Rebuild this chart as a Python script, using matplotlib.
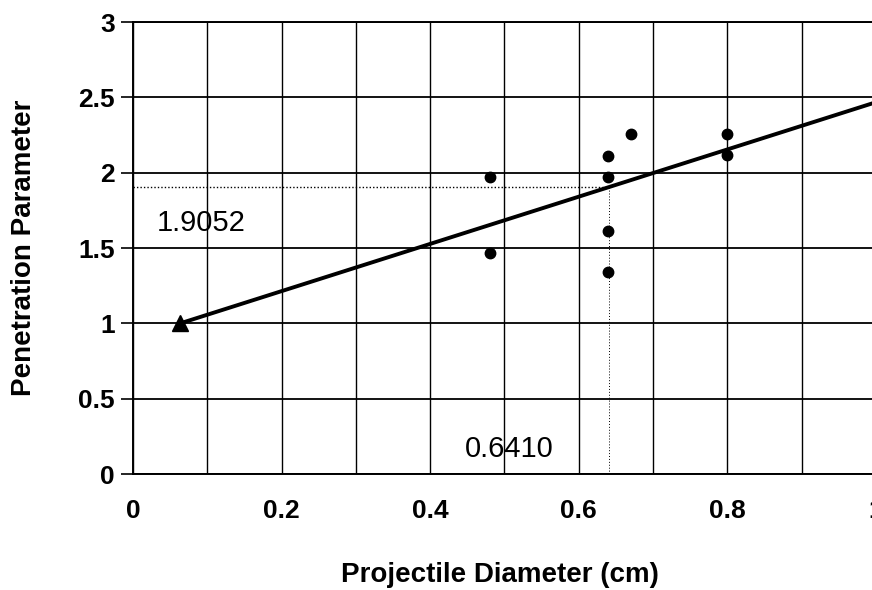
import matplotlib.pyplot as plt
import numpy as np

plt.rcParams['font.family'] = ['Liberation Sans', 'DejaVu Sans']

# measured points
diam = [0.48, 0.48, 0.64, 0.64, 0.64, 0.64, 0.67, 0.80, 0.80]
param = [1.97, 1.47, 2.11, 1.97, 1.61, 1.34, 2.26, 2.26, 2.12]

# reference point (triangle)
ref_x = [0.0635]
ref_y = [1.0]

# fit line and the read-off value
fit_x = [0.0635, 1.0]
read_x = 0.6410
read_y = 1.9052

slope = (read_y - ref_y[0]) / (read_x - ref_x[0])
fit_y = [ref_y[0] + slope * (x - ref_x[0]) for x in fit_x]

fig = plt.figure(figsize=(8.72, 5.90), dpi=100)
ax = fig.add_axes([0.1525, 0.1966, 0.852, 0.766])

ax.set_xlim(0, 1)
ax.set_ylim(0, 3)
ax.set_xticks(np.arange(0, 1.01, 0.2))
ax.set_xticklabels(["0", "0.2", "0.4", "0.6", "0.8", "1"])
ax.set_xticks(np.arange(0, 1.01, 0.1), minor=True)
ax.set_yticks(np.arange(0, 3.01, 0.5))
ax.set_yticklabels(["0", "0.5", "1", "1.5", "2", "2.5", "3"])

ax.grid(True, which='both', axis='x', color='black', linewidth=1.0)
ax.grid(True, which='major', axis='y', color='black', linewidth=1.3)
ax.tick_params(axis='x', which='both', length=0, pad=18, labelsize=19)
ax.tick_params(axis='y', length=9, width=1.2, pad=4, labelsize=19)
for lbl in ax.get_xticklabels() + ax.get_yticklabels():
    lbl.set_fontweight('bold')
for s in ax.spines.values():
    s.set_linewidth(1.4)

ax.plot([0, read_x], [read_y, read_y], color='black', linestyle=(0, (1, 1.5)), linewidth=1.0)
ax.plot([read_x, read_x], [0, read_y], color='black', linestyle=(0, (1, 2)), linewidth=0.7)

ax.plot(fit_x, fit_y, color='black', linewidth=2.8, solid_capstyle='butt', clip_on=False)
ax.plot(diam, param, 'o', color='black', markersize=7.5, linestyle='none')
ax.plot(ref_x, ref_y, '^', color='black', markersize=12, linestyle='none')

ax.text(0.032, 1.666, "1.9052", fontsize=21, va='center', ha='left')
ax.text(0.447, 0.166, "0.6410", fontsize=21, va='center', ha='left')

ax.set_xlabel("Projectile Diameter (cm)", fontsize=20, fontweight='bold', va='center')
ax.xaxis.set_label_coords(0.494, -0.2235)
ax.set_ylabel("Penetration Parameter", fontsize=20, fontweight='bold', va='center')
ax.yaxis.set_label_coords(-0.1467, 0.5)

fig.savefig("out.png", dpi=100)
